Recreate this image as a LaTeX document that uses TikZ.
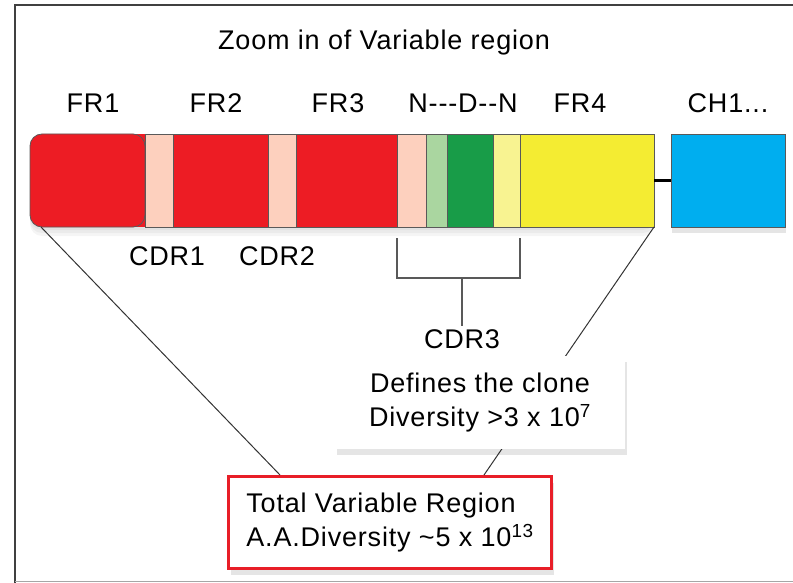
\documentclass[tikz,border=0pt]{standalone}
\usepackage{fontspec}
\setmainfont{Liberation Sans}[LetterSpace=3]
\usepackage{xcolor}
\usetikzlibrary{positioning, shadows}
\definecolor{fr-red}{RGB}{237, 28, 36}
\definecolor{cdr-peach}{RGB}{253, 208, 190}
\definecolor{n-green}{RGB}{170, 214, 160}
\definecolor{d-green}{RGB}{24, 156, 72}
\definecolor{n-yellow}{RGB}{248, 243, 145}
\definecolor{fr-yellow}{RGB}{244, 236, 50}
\definecolor{ch-blue}{RGB}{0, 174, 239}
\definecolor{box-red}{RGB}{232, 30, 40}

\begin{document}
\begin{tikzpicture}[
  x=1pt, y=-1pt,
  seg/.style={rectangle, draw=black!65, line width=0.8pt, minimum height=93pt, inner sep=0pt, outer sep=0pt},
  lab/.style={font=\fontsize{27}{34}\selectfont, anchor=base},
  infobox/.style={rectangle, fill=white, font=\fontsize{27}{34}\selectfont, inner sep=0pt,
    drop shadow={shadow xshift=2pt, shadow yshift=-6pt, fill=black, opacity=0.1}},
  thinline/.style={draw=black!80, line width=1pt},
  bracket/.style={draw=black!65, line width=1.2pt},
  link/.style={line width=3pt, black}
]
  \useasboundingbox (0,0) rectangle (793,583);
  % frame
  \draw[black!75, line width=1.6pt] (15,583) -- (15,5) -- (793,5);
  \draw[black!35, line width=1pt] (15,581.5) -- (793,581.5);

  % soft shadow under the bar
  \foreach \d in {3,6,9}
    \fill[black, opacity=0.04, rounded corners=12pt] (30,134+\d) rectangle (655,227+\d);
  \fill[fr-red] (125,134) rectangle (146,227);

  % variable region segments
  \node[seg, fill=fr-red, minimum width=115pt, rounded corners=12pt, anchor=north west] (fr1) at (30,134) {};
  \node[seg, fill=cdr-peach, minimum width=28pt, right=0pt of fr1] (cdr1) {};
  \node[seg, fill=fr-red, minimum width=95pt, right=0pt of cdr1] (fr2) {};
  \node[seg, fill=cdr-peach, minimum width=28pt, right=0pt of fr2] (cdr2) {};
  \node[seg, fill=fr-red, minimum width=101pt, right=0pt of cdr2] (fr3) {};
  \node[seg, fill=cdr-peach, minimum width=29pt, right=0pt of fr3] (cdr3a) {};
  \node[seg, fill=n-green, minimum width=21pt, right=0pt of cdr3a] (nseg) {};
  \node[seg, fill=d-green, minimum width=46pt, right=0pt of nseg] (dseg) {};
  \node[seg, fill=n-yellow, minimum width=27pt, right=0pt of dseg] (nseg2) {};
  \node[seg, fill=fr-yellow, minimum width=134pt, right=0pt of nseg2] (fr4) {};
  \node[seg, fill=ch-blue, minimum width=114pt, right=17pt of fr4,
    drop shadow={shadow xshift=1pt, shadow yshift=-6pt, fill=black, opacity=0.1}] (ch1) {};
  \draw[link] (fr4) -- (ch1);

  % labels
  \node[lab] (title) at (384,50) {Zoom in of Variable region};
  \node[lab] (fr1lab) at (93,113) {FR1};
  \node[lab] (fr2lab) at (216,113) {FR2};
  \node[lab] (fr3lab) at (338,113) {FR3};
  \node[lab] (ndnlab) at (463,113) {N-{}-{}-D-{}-N};
  \node[lab] (fr4lab) at (580,113) {FR4};
  \node[lab] (ch1lab) at (728,113) {CH1...};
  \node[lab] (cdr1lab) at (167,265) {CDR1};
  \node[lab] (cdr2lab) at (277,265) {CDR2};
  \node[lab] (cdr3) at (462,348) {CDR3};

  % CDR3 bracket
  \draw[bracket] ([yshift=-11pt]cdr3a.south west) -- ++(0,40) coordinate (bl)
    -- (bl -| nseg2.south east) -- ([yshift=-11pt]nseg2.south east);
  \draw[bracket] (cdr3.north |- bl) -- (cdr3.north);

  % diversity boxes
  \node[infobox, draw=box-red, line width=3pt, align=left, minimum width=323pt, minimum height=92pt] (total) at (390,522.5)
    {Total Variable Region\\A.A.Diversity \textasciitilde5 x 10\textsuperscript{13}};
  \draw[thinline] (fr1.-135) -- ([xshift=53pt]total.north west);
  \draw[thinline] (fr4.south east) -- ([xshift=257pt]total.north west);
  \node[infobox, align=center, minimum width=290pt, minimum height=93pt] (clone) at (480,402.5)
    {Defines the clone\\Diversity >3 x 10\textsuperscript{7}};
\end{tikzpicture}
\end{document}
